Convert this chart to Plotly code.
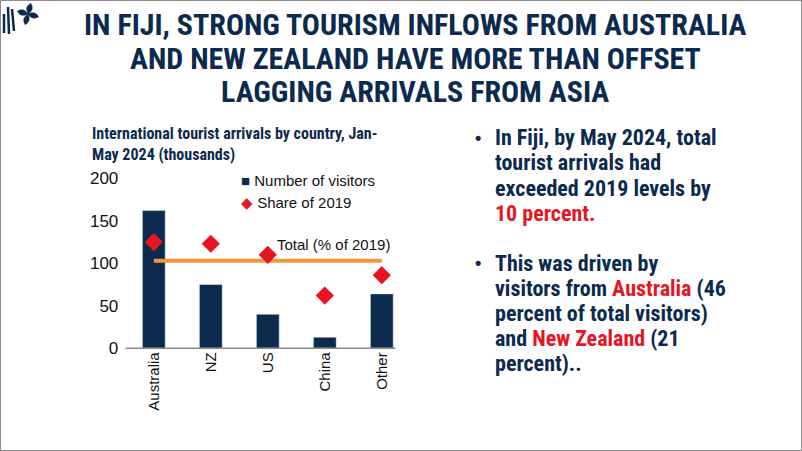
import plotly.graph_objects as go
import math

# ---- data ----
countries = ["Australia", "NZ", "US", "China", "Other"]
visitors = [162, 75, 40, 13, 64]          # thousands, Jan-May 2024
share_2019 = [125, 123, 110, 62, 86]      # % of 2019
total_pct = 103                            # total (% of 2019)
y_ticks = [0, 50, 100, 150, 200]

W, H = 802, 451
NAVY = "#0C2A4E"
RED = "#E8141F"
ORANGE = "#F0983A"
NARROW = "Liberation Sans Narrow, Arial Narrow, Roboto Condensed, Arial, sans-serif"
SANS = "Liberation Sans, Arial, sans-serif"


def px(x):
    return x / W


def py(y):
    return 1 - y / H


fig = go.Figure()
fig.add_trace(go.Bar(x=countries, y=visitors, marker_color=NAVY, name="Number of visitors",
                     showlegend=False))
fig.add_trace(go.Scatter(x=[countries[0], countries[-1]], y=[total_pct, total_pct], mode="lines",
                         line=dict(color=ORANGE, width=4), name="Total (% of 2019)", showlegend=False))
fig.add_trace(go.Scatter(x=countries, y=share_2019, mode="markers",
                         marker=dict(symbol="diamond", size=14, color=RED), name="Share of 2019",
                         showlegend=False))

annotations = []
# main title
title_lines = ["IN FIJI, STRONG TOURISM INFLOWS FROM AUSTRALIA",
               "AND NEW ZEALAND HAVE MORE THAN OFFSET",
               "LAGGING ARRIVALS FROM ASIA"]
for i, t in enumerate(title_lines):
    annotations.append(dict(text="<b>%s</b>" % t, x=px(415), y=py(25 + 33 * i), xref="paper", yref="paper",
                            xanchor="center", yanchor="middle", showarrow=False,
                            font=dict(family=NARROW, size=30, color=NAVY)))
# chart title
annotations.append(dict(text="<b>International tourist arrivals by country, Jan-<br>May 2024 (thousands)</b>",
                        x=px(90), y=py(144), xref="paper", yref="paper", align="left",
                        xanchor="left", yanchor="middle", showarrow=False,
                        font=dict(family=NARROW, size=16, color=NAVY)))
# legend
annotations.append(dict(text="<span style='color:%s'>■</span> Number of visitors" % NAVY,
                        x=px(239), y=py(180), xref="paper", yref="paper", xanchor="left", yanchor="middle",
                        showarrow=False, font=dict(family=SANS, size=15, color="#111111")))
annotations.append(dict(text="<span style='color:%s'>◆</span> Share of 2019" % RED,
                        x=px(239), y=py(202), xref="paper", yref="paper", xanchor="left", yanchor="middle",
                        showarrow=False, font=dict(family=SANS, size=15, color="#111111")))
annotations.append(dict(text="Total (% of 2019)", x=px(275), y=py(244), xref="paper", yref="paper",
                        xanchor="left", yanchor="middle", showarrow=False,
                        font=dict(family=SANS, size=15, color="#111111")))

# right text
right_lines = [
    ("In Fiji, by May 2024, total", 147, True),
    ("tourist arrivals had", 172, False),
    ("exceeded 2019 levels by", 197, False),
    ("<span style='color:%s'>10 percent.</span>" % RED, 222, False),
    ("This was driven by", 272, True),
    ("visitors from <span style='color:%s'>Australia</span> (46" % RED, 297, False),
    ("percent of total visitors)", 322, False),
    ("and <span style='color:%s'>New Zealand</span> (21" % RED, 347, False),
    ("percent)..", 372, False),
]
for t, base, bullet in right_lines:
    yc = base - 9
    annotations.append(dict(text="<b>%s</b>" % t, x=px(493), y=py(yc), xref="paper", yref="paper",
                            xanchor="left", yanchor="middle", showarrow=False,
                            font=dict(family=NARROW, size=22, color=NAVY)))
    if bullet:
        annotations.append(dict(text="<b>•</b>", x=px(473), y=py(yc), xref="paper", yref="paper",
                                xanchor="left", yanchor="middle", showarrow=False,
                                font=dict(family=SANS, size=18, color=NAVY)))

shapes = []
# slide border
shapes.append(dict(type="rect", xref="paper", yref="paper", x0=0, y0=0, x1=1, y1=1,
                   line=dict(color="#8C8C8C", width=2)))
# category axis line
shapes.append(dict(type="line", xref="paper", yref="paper", x0=px(125.5), x1=px(395.5),
                   y0=py(348.3), y1=py(348.3), line=dict(color="#8C8C8C", width=1.5)))
# logo: slanted strokes
for (x0, y0, x1, y1) in [(4, 14, 4, 33), (8, 7, 9, 34), (12, 9, 14, 31)]:
    shapes.append(dict(type="line", xref="paper", yref="paper", x0=px(x0), y0=py(y0), x1=px(x1), y1=py(y1),
                       line=dict(color=NAVY, width=2.5)))
# logo: four-petal flower
cx, cy = 28, 14
for ang in [-75, 15, 105, 195]:
    a = math.radians(ang)
    L = 11
    tx, ty = cx + L * math.cos(a), cy + L * math.sin(a)
    nx, ny = -math.sin(a), math.cos(a)
    mx, my = cx + 0.55 * L * math.cos(a), cy + 0.55 * L * math.sin(a)
    w = 5.5
    p1 = (mx + w * nx, my + w * ny)
    p2 = (mx - w * nx, my - w * ny)
    path = "M %f,%f Q %f,%f %f,%f Q %f,%f %f,%f Z" % (
        px(cx), py(cy), px(p1[0]), py(p1[1]), px(tx), py(ty), px(p2[0]), py(p2[1]), px(cx), py(cy))
    shapes.append(dict(type="path", xref="paper", yref="paper", path=path,
                       fillcolor=NAVY, line=dict(color=NAVY, width=0.5)))

fig.update_layout(
    width=W, height=H,
    margin=dict(l=0, r=0, t=0, b=0),
    paper_bgcolor="white", plot_bgcolor="white",
    bargap=0.6,
    annotations=annotations,
    shapes=shapes,
    font=dict(family=SANS, size=15, color="#111111"),
    xaxis=dict(domain=[px(125.3), px(410.3)], range=[-0.5, 4.5], tickangle=-90, showline=False,
               ticks="", showgrid=False, zeroline=False,
               tickfont=dict(family=SANS, size=15, color="#111111"), automargin=False),
    yaxis=dict(domain=[py(348.3), py(178.3)], range=[0, 200], tickvals=y_ticks, showgrid=False,
               showline=False, zeroline=False, ticks="", ticklabelstandoff=6,
               tickfont=dict(family=SANS, size=17, color="#111111"), automargin=False),
)

fig.write_html("out.html")
